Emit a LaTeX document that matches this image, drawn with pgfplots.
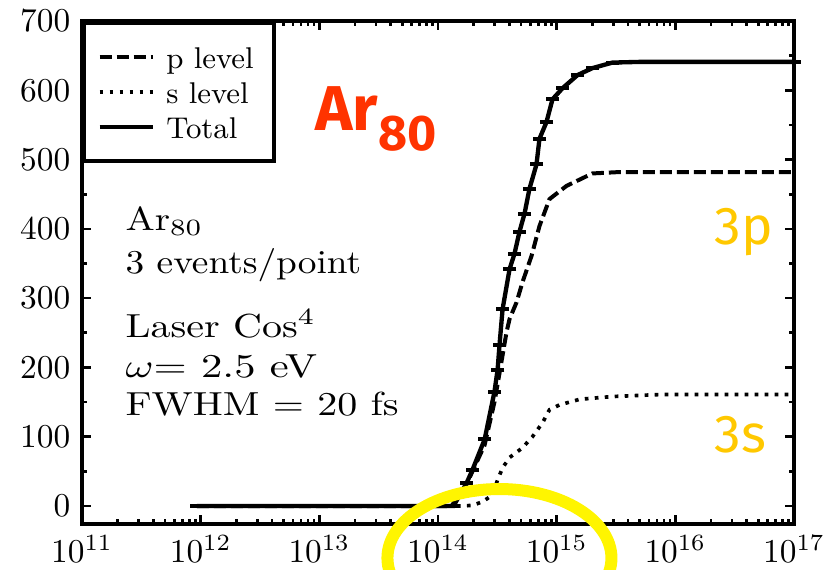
\documentclass[border=0pt]{standalone}
\usepackage{graphicx}
\usepackage{pgfplots}
\pgfplotsset{compat=1.18}
\usepackage{fontspec}
\newfontfamily\annfont{Fira Sans}
\usetikzlibrary{calc}
\definecolor{arred}{RGB}{255,51,0}
\definecolor{gold}{RGB}{255,200,0}
\definecolor{hilite}{RGB}{255,245,0}

\begin{document}
\begin{tikzpicture}
\begin{axis}[
  scale only axis,
  width=213.6pt, height=150.9pt,
  xmode=log, xmin=1e11, xmax=1e17,
  ymin=-26, ymax=700,
  ytick={0,100,...,700}, minor y tick num=1,
  axis line style={line width=1.2pt},
  every tick/.style={black, line width=0.8pt},
  major tick length=2.6pt, minor tick length=1.6pt,
  clip=false,
  legend image code/.code={\draw[#1] (0pt,0pt) -- (16pt,0pt);},
  legend style={at={(0,1)}, anchor=north west, draw=black, line width=1.2pt,
    font=\fontsize{9}{10}\selectfont,
    inner xsep=4pt, inner ysep=5pt, column sep=1.4pt,
    nodes={inner xsep=2pt, inner ysep=0.5pt, text height=8pt, text depth=1.5pt}},
  legend cell align=left,
]
% p level
\addplot[black, line width=1.2pt, dash pattern=on 3.6pt off 1.5pt] coordinates {
  (9.3e11,0) (1.3e14,0) (1.74e14,31) (1.95e14,50) (2.47e14,88) (2.99e14,150)
  (3.30e14,192) (3.78e14,251) (4.01e14,270) (4.59e14,294) (5.15e14,323)
  (6.14e14,361) (7.16e14,404) (8.7e14,443) (1.21e15,462) (2.0e15,480)
  (3.38e15,482) (1e16,482) (1e17,482)
};
\addlegendentry{p level}
% s level
\addplot[black, line width=1.1pt, dash pattern=on 1.1pt off 1.9pt] coordinates {
  (9.3e11,0) (1.61e14,0) (1.95e14,1) (2.37e14,6) (2.88e14,16) (3.18e14,38)
  (3.50e14,55) (4.01e14,70) (5.15e14,84) (6.25e14,100) (7.59e14,120)
  (8.7e14,139) (1.06e15,146) (1.56e15,154) (2.95e15,158) (7.8e15,161)
  (1e17,161)
};
\addlegendentry{s level}
% Total
\addplot[black, line width=1.3pt, mark=-, mark size=2pt,
  mark options={solid, line width=1.2pt}, forget plot] coordinates {
  (9.3e11,0) (1e13,0) (1.35e14,0) (1.74e14,33) (1.95e14,52) (2.47e14,96)
  (2.99e14,165) (3.18e14,197) (3.30e14,233) (3.50e14,284) (4.01e14,342)
  (4.41e14,364) (4.86e14,396) (5.36e14,422) (5.90e14,458) (6.76e14,493)
  (7.16e14,530) (8.2e14,554) (9.22e14,587) (1.12e15,603) (1.5e15,622)
  (2.0e15,632) (2.95e15,640) (5e15,641) (1e16,641) (2e16,641) (5e16,641)
  (1e17,641)
};
\addlegendimage{black, solid, line width=1.3pt}
\addlegendentry{Total}

\node[anchor=base west, inner sep=0] at (rel axis cs:0.0603,0.5845) {\scalebox{1.17}[1]{Ar$_{80}$}};
\node[anchor=base west, inner sep=0] at (rel axis cs:0.0603,0.4990) {\scalebox{1.12}[1]{3 events/point}};
\node[anchor=base west, inner sep=0] at (rel axis cs:0.0603,0.3718) {\scalebox{1.2}[1]{Laser Cos$^{4}$}};
\node[anchor=base west, inner sep=0] at (rel axis cs:0.0603,0.2922) {\scalebox{1.28}[1]{$\omega$= 2.5 eV}};
\node[anchor=base west, inner sep=0] at (rel axis cs:0.0603,0.2167) {\scalebox{1.2}[1]{FWHM $=$ 20 fs}};

\node[anchor=base west, inner sep=0, text=arred] at (rel axis cs:0.3268,0.7833)
  {\annfont\bfseries\fontsize{19}{19}\selectfont Ar\raisebox{-6pt}{\fontsize{15}{15}\selectfont 80}};
\node[anchor=base west, inner sep=0, text=gold] at (rel axis cs:0.888,0.5547)
  {\annfont\fontsize{16}{16}\selectfont 3p};
\node[anchor=base west, inner sep=0, text=gold] at (rel axis cs:0.888,0.1412)
  {\annfont\fontsize{16}{16}\selectfont 3s};

\coordinate (ec) at (rel axis cs:0.5863,-0.0676);
\coordinate (bl) at (rel axis cs:0,0);
\coordinate (tr) at (rel axis cs:1,1);
\end{axis}
\draw[hilite, line width=3.6pt] (ec) ellipse [x radius=33.6pt, y radius=20.7pt];
\pgfresetboundingbox
\useasboundingbox ($(bl)+(-24.6pt,-13.5pt)$) rectangle ($(tr)+(9pt,6.3pt)$);
\end{tikzpicture}
\end{document}
